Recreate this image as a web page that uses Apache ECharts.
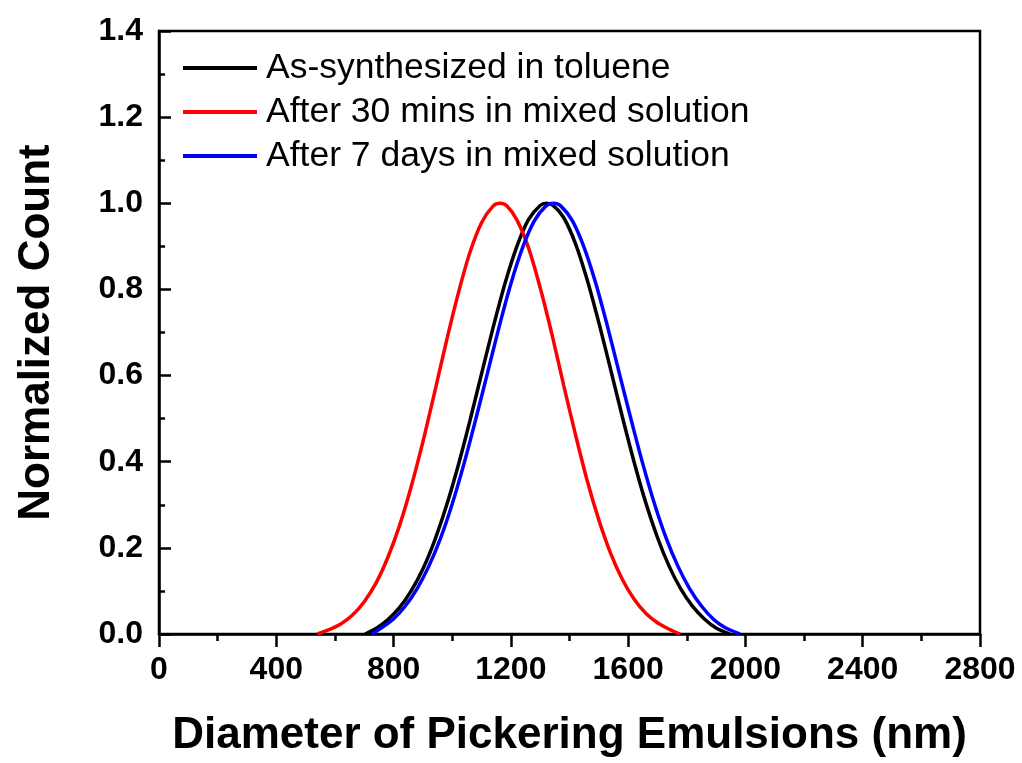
<!DOCTYPE html>
<html>
<head>
<meta charset="utf-8">
<script src="https://cdn.jsdelivr.net/npm/echarts@6/dist/echarts.min.js"></script>
<style>html,body{margin:0;padding:0;background:#fff;}#c{width:1022px;height:763px;}</style>
</head>
<body>
<div id="c"></div>
<script>
// Data
const seriesNames = ['As-synthesized in toluene', 'After 30 mins in mixed solution', 'After 7 days in mixed solution'];
const xTicks = [0, 400, 800, 1200, 1600, 2000, 2400, 2800];
const yTicks = [0.0, 0.2, 0.4, 0.6, 0.8, 1.0, 1.2, 1.4];

const blackX = [703, 740, 780, 820, 860, 900, 940, 980, 1020, 1060, 1100, 1140, 1180, 1220, 1260, 1300, 1322, 1344, 1380, 1420, 1460, 1500, 1540, 1580, 1620, 1660, 1700, 1740, 1780, 1820, 1860, 1900, 1947];
const blackY = [0, 0.013, 0.033, 0.061, 0.100, 0.151, 0.217, 0.297, 0.390, 0.494, 0.604, 0.713, 0.814, 0.899, 0.962, 0.995, 1.0, 0.995, 0.967, 0.907, 0.823, 0.723, 0.615, 0.505, 0.400, 0.305, 0.224, 0.157, 0.104, 0.064, 0.035, 0.014, 0];

const redX = [540, 580, 620, 660, 700, 740, 780, 820, 860, 900, 940, 980, 1020, 1060, 1100, 1140, 1163, 1186, 1220, 1260, 1300, 1340, 1380, 1420, 1460, 1500, 1540, 1580, 1620, 1660, 1700, 1740, 1777];
const redY = [0, 0.010, 0.023, 0.044, 0.075, 0.118, 0.177, 0.251, 0.342, 0.446, 0.561, 0.679, 0.789, 0.885, 0.955, 0.994, 1.0, 0.994, 0.962, 0.897, 0.804, 0.696, 0.578, 0.464, 0.357, 0.265, 0.188, 0.127, 0.081, 0.048, 0.026, 0.011, 0];

const blueX = [726, 760, 800, 840, 880, 920, 960, 1000, 1040, 1080, 1120, 1160, 1200, 1240, 1280, 1320, 1345, 1370, 1410, 1450, 1490, 1530, 1570, 1610, 1650, 1690, 1730, 1770, 1810, 1850, 1890, 1930, 1981];
const blueY = [0, 0.015, 0.035, 0.065, 0.105, 0.157, 0.222, 0.302, 0.395, 0.498, 0.605, 0.713, 0.813, 0.897, 0.959, 0.994, 1.0, 0.994, 0.959, 0.897, 0.813, 0.713, 0.605, 0.498, 0.395, 0.302, 0.222, 0.157, 0.105, 0.065, 0.035, 0.015, 0];

function pairs(xs, ys) { return xs.map((x, i) => [x, ys[i]]); }

const chart = echarts.init(document.getElementById('c'), null, {renderer: 'canvas'});
const font = 'Arial, "Liberation Sans", sans-serif';
function line(name, xs, ys, color) {
  return {
    name: name, type: 'line', data: pairs(xs, ys), smooth: 0.3, symbol: 'none',
    lineStyle: {color: color, width: 3.5}, itemStyle: {color: color}, z: 3
  };
}
chart.setOption({
  backgroundColor: '#ffffff',
  animation: false,
  grid: {left: 159, right: 42, top: 31, bottom: 125, show: true, borderColor: '#000', borderWidth: 2.5, backgroundColor: 'transparent'},
  legend: {
    show: true, orient: 'vertical', left: 183, top: 50, padding: 0,
    icon: 'rect', itemWidth: 74, itemHeight: 4, itemGap: 8,
    data: seriesNames,
    textStyle: {fontFamily: font, fontSize: 35.5, color: '#000', lineHeight: 36, padding: [0, 0, 0, 4]}
  },
  xAxis: {
    type: 'value', min: xTicks[0], max: xTicks[xTicks.length - 1], interval: 400,
    name: 'Diameter of Pickering Emulsions (nm)', nameLocation: 'middle', nameGap: 80,
    nameTextStyle: {fontFamily: font, fontSize: 44, fontWeight: 'bold', color: '#000'},
    axisLine: {show: true, onZero: false, lineStyle: {color: '#000', width: 2.5}},
    axisTick: {show: true, inside: false, length: 13, lineStyle: {color: '#000', width: 2.5}},
    minorTick: {show: true, splitNumber: 2, length: 7, lineStyle: {color: '#000', width: 2.5}},
    axisLabel: {margin: 20, fontFamily: font, fontSize: 32, fontWeight: 'bold', color: '#000',
      formatter: v => String(v)},
    splitLine: {show: false}
  },
  yAxis: {
    type: 'value', min: yTicks[0], max: yTicks[yTicks.length - 1], interval: 0.2,
    name: 'Normalized Count', nameLocation: 'middle', nameGap: 100,
    nameTextStyle: {fontFamily: font, fontSize: 44, fontWeight: 'bold', color: '#000'},
    axisLine: {show: true, onZero: false, lineStyle: {color: '#000', width: 2.5}},
    axisTick: {show: true, inside: true, length: 12, lineStyle: {color: '#000', width: 2.5}},
    minorTick: {show: true, splitNumber: 2, length: 6, lineStyle: {color: '#000', width: 2.5}},
    axisLabel: {margin: 16, fontFamily: font, fontSize: 32, fontWeight: 'bold', color: '#000',
      formatter: v => v.toFixed(1)},
    splitLine: {show: false}
  },
  series: [
    line(seriesNames[0], blackX, blackY, '#000000'),
    line(seriesNames[1], redX, redY, '#ff0000'),
    line(seriesNames[2], blueX, blueY, '#0000ff')
  ]
});
</script>
</body>
</html>
